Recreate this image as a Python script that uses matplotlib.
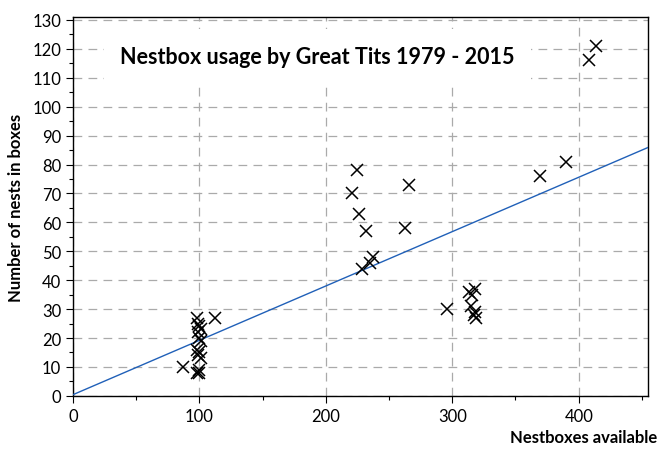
import matplotlib
matplotlib.use('Agg')
import matplotlib.pyplot as plt
from matplotlib.ticker import MultipleLocator

plt.rcParams['font.family'] = ['Lato', 'DejaVu Sans']

# Nestboxes available vs nests occupied, one point per year
boxes = [87, 98, 99, 100, 101, 99, 100, 101, 98, 100, 99, 101, 100, 98, 100, 112,
         221, 225, 226, 232, 229, 235, 237, 263, 266,
         296, 313, 316, 318, 315, 317, 319, 318,
         369, 390, 408, 414]
nests = [10, 27, 25, 24, 23, 22, 20, 19, 16, 15, 14, 13, 9, 8, 8, 27,
         70, 78, 63, 57, 44, 46, 48, 58, 73,
         30, 36, 35, 37, 31, 28, 27, 29,
         76, 81, 116, 121]

# fitted trend line
fit_slope = 0.188
fit_intercept = 0.4
x_range = [0, 455]

fig = plt.figure(figsize=(6.69, 4.52), dpi=100)
ax = fig.add_axes([0.109, 0.122, 0.860, 0.838])

ax.plot(x_range, [fit_intercept + fit_slope * v for v in x_range],
        color='#2060b8', lw=1, zorder=3)
ax.plot(boxes, nests, 'x', color='black', ms=9, mew=1.1, zorder=4)

ax.set_xlim(0, 455)
ax.set_ylim(0, 131)
ax.xaxis.set_major_locator(MultipleLocator(100))
ax.xaxis.set_minor_locator(MultipleLocator(50))
ax.yaxis.set_major_locator(MultipleLocator(10))
ax.yaxis.set_minor_locator(MultipleLocator(5))
ax.tick_params(which='major', length=5, labelsize=12, width=0.8)
ax.tick_params(which='minor', length=3, width=0.8)
ax.grid(True, which='major', ls=(0, (7, 5)), color='#aaaaaa', lw=0.9, zorder=0)
for s in ax.spines.values():
    s.set_linewidth(1)

ax.text(0.425, 0.897, 'Nestbox usage by Great Tits 1979 - 2015', transform=ax.transAxes,
        ha='center', va='center', fontsize=15.5, fontweight='bold', zorder=5,
        bbox=dict(facecolor='white', edgecolor='none', pad=12))

ax.set_ylabel('Number of nests in boxes', fontsize=12, fontweight='bold', labelpad=6)
fig.text(0.982, 0.03, 'Nestboxes available', ha='right', va='center',
         fontsize=12, fontweight='bold')

fig.savefig('out.png', dpi=100)
